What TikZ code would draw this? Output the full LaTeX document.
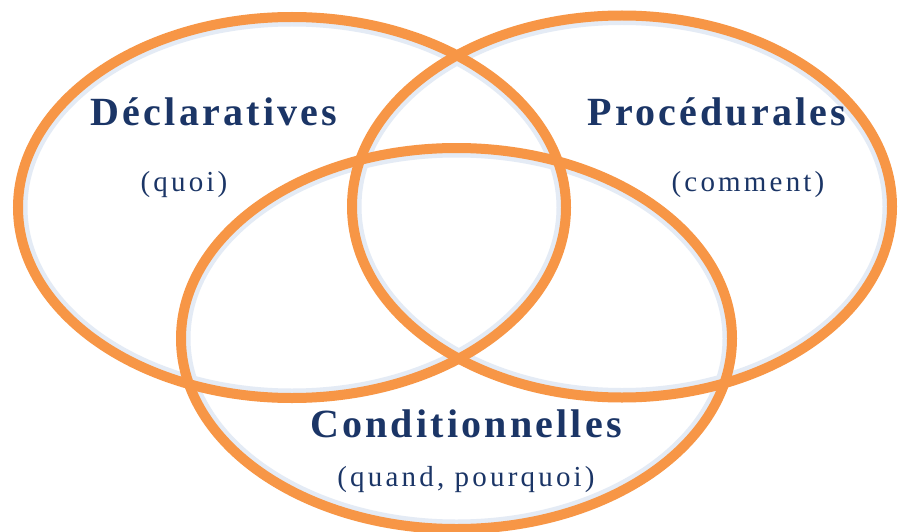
\documentclass[tikz,border=0pt]{standalone}
\usepackage{fontspec}
\setmainfont{Liberation Serif}
\newfontfamily\headfont[LetterSpace=8]{Liberation Serif}
\newfontfamily\subfont[LetterSpace=11]{Liberation Serif}
\definecolor{venn}{HTML}{F79646}
\definecolor{ink}{HTML}{1B3566}
\definecolor{glow}{HTML}{E4EBF5}
\begin{document}
\begin{tikzpicture}[x=1pt,y=-1pt,
  ring/.style={draw=venn,line width=10pt},
  halo/.style={draw=glow,line width=5pt},
  head/.style={text=ink,font=\headfont\bfseries\fontsize{40}{44}\selectfont,anchor=base,inner sep=0pt},
  sub/.style={text=ink,font=\subfont\fontsize{29}{33}\selectfont,anchor=base,inner sep=0pt}]
\useasboundingbox (0,0) rectangle (907,532);
\fill[white] (0,0) rectangle (907,532);
\clip (0,0) rectangle (907,532);
% soft inner glow
\draw[halo] (292,207.5) ellipse [x radius=267pt, y radius=183.5pt];
\draw[halo] (622,206.5) ellipse [x radius=263pt, y radius=184pt];
\draw[halo] (456.5,338.5) ellipse [x radius=268.5pt, y radius=183.5pt];
% rings
\draw[ring] (292,207.5) ellipse [x radius=274pt, y radius=190.5pt];
\draw[ring] (622,206.5) ellipse [x radius=270pt, y radius=191pt];
\draw[ring] (456.5,338.5) ellipse [x radius=275.5pt, y radius=190.5pt];
% labels
\node[head] (decl) at (214,126) {Déclaratives};
\node[sub] (quoi) at (184,191) {(quoi)};
\node[head] (proc) at (717,126) {Procédurales};
\node[sub] (comment) at (748,191) {(comment)};
\node[head] (cond) at (466,437) {Conditionnelles};
\node[sub] (quand) at (466,486) {(quand, pourquoi)};
\end{tikzpicture}
\end{document}
